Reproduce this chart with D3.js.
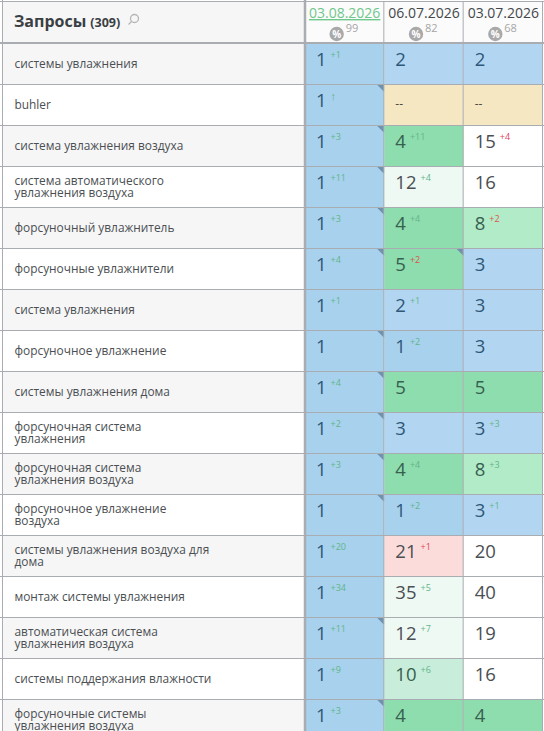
<!DOCTYPE html>
<html>
<head>
<meta charset="utf-8">
<script src="https://cdn.jsdelivr.net/npm/d3@7"></script>
<style>
  html, body { margin: 0; padding: 0; background: #fff; }
  svg { display: block; font-family: "Open Sans", sans-serif; }
</style>
</head>
<body>
<svg id="table" width="544" height="731"></svg>
<script>
const dates = ["03.08.2026", "06.07.2026", "03.07.2026"];
const percents = [99, 82, 68];

const queries = [
  ["системы увлажнения"],
  ["buhler"],
  ["система увлажнения воздуха"],
  ["система автоматического", "увлажнения воздуха"],
  ["форсуночный увлажнитель"],
  ["форсуночные увлажнители"],
  ["система увлажнения"],
  ["форсуночное увлажнение"],
  ["системы увлажнения дома"],
  ["форсуночная система", "увлажнения"],
  ["форсуночная система", "увлажнения воздуха"],
  ["форсуночное увлажнение", "воздуха"],
  ["системы увлажнения воздуха для", "дома"],
  ["монтаж системы увлажнения"],
  ["автоматическая система", "увлажнения воздуха"],
  ["системы поддержания влажности"],
  ["форсуночные системы", "увлажнения воздуха"]
];

// positions per date column, null = not in the results
const positions = [
  [1, 1, 1, 1, 1, 1, 1, 1, 1, 1, 1, 1, 1, 1, 1, 1, 1],
  [2, null, 4, 12, 4, 5, 2, 1, 5, 3, 4, 1, 21, 35, 12, 10, 4],
  [2, null, 15, 16, 8, 3, 3, 3, 5, 3, 8, 3, 20, 40, 19, 16, 4]
];

// change against the next date, positive = went up; "up" = newly appeared
const changes = [
  [1, "up", 3, 11, 3, 4, 1, 0, 4, 2, 3, 0, 20, 34, 11, 9, 3],
  [0, 0, 11, 4, 4, -2, 1, 2, 0, 0, 4, 2, -1, 5, 7, 6, 0],
  [0, 0, -4, 0, -2, 0, 0, 0, 0, 3, 3, 1, 0, 0, 0, 0, 0]
];

// rows with the corner mark, per date column
const marked = [
  [1, 2, 3, 4, 5, 7, 8, 9, 10, 11, 14, 16],
  [5],
  []
];

const width = 544, height = 731;
const headerBottom = 43, rowHeight = 41;
const tableLeft = 2, queryRight = 305, tableRight = 543;

const svg = d3.select("#table");

const x = d3.scaleBand().domain(d3.range(dates.length)).range([queryRight, tableRight]);
const y = d3.scaleLinear().domain([0, 1]).range([headerBottom, headerBottom + rowHeight]);

function cellFill(pos, change) {
  if (pos === null) return "#f5e7c2";
  if (pos === 1) return "#a7d1ed";
  if (pos <= 3) return "#b2d6f1";
  if (pos <= 5) return "#8eddae";
  if (pos <= 8) return "#b2ebc7";
  if (pos <= 10) return "#c8eedb";
  if (pos > 20 && change < 0) return "#fbdcdb";
  if (change > 0) return "#eff9f4";
  return "#ffffff";
}

function numberFill(pos) {
  if (pos <= 3) return "#2f5878";
  if (pos <= 10) return "#37604f";
  return "#4a4f53";
}

// backgrounds
svg.append("rect").attr("width", width).attr("height", height).attr("fill", "#fff");
svg.append("rect").attr("x", tableLeft).attr("y", 2)
  .attr("width", queryRight - tableLeft).attr("height", headerBottom - 2).attr("fill", "#f6f6f6");
svg.append("rect").attr("x", queryRight).attr("y", 2)
  .attr("width", tableRight - queryRight).attr("height", headerBottom - 2).attr("fill", "#fbfbfb");

const rows = svg.selectAll(".row").data(queries).join("g").attr("class", "row");

rows.append("rect")
  .attr("x", tableLeft)
  .attr("y", (d, i) => y(i))
  .attr("width", queryRight - tableLeft)
  .attr("height", rowHeight)
  .attr("fill", (d, i) => i % 2 ? "#ffffff" : "#f6f6f7");

rows.append("text")
  .attr("font-size", 11.9)
  .attr("fill", "#4b4f52")
  .each(function(lines, i) {
    const top = y(i) + rowHeight / 2 + 4 - (lines.length - 1) * 6;
    d3.select(this).selectAll("tspan").data(lines).join("tspan")
      .attr("x", 14.5)
      .attr("y", (d, k) => top + k * 12)
      .text(d => d);
  });

// date columns
dates.forEach((date, c) => {
  const col = svg.append("g").attr("class", "col");
  const left = x(c), cx = left + x.bandwidth() / 2;

  const cells = col.selectAll(".cell").data(positions[c]).join("g").attr("class", "cell");

  cells.append("rect")
    .attr("x", left)
    .attr("y", (d, i) => y(i))
    .attr("width", x.bandwidth())
    .attr("height", rowHeight)
    .attr("fill", (d, i) => cellFill(d, changes[c][i]));

  marked[c].forEach(i => {
    const tx = left + x.bandwidth(), ty = y(i);
    col.append("path").attr("fill", "#6f92ad")
      .attr("d", d3.line()([[tx - 8, ty], [tx, ty], [tx, ty + 8]]) + "Z");
  });

  cells.each(function(pos, i) {
    const cell = d3.select(this);
    const change = changes[c][i];
    if (pos === null) {
      cell.append("text").attr("x", left + 11).attr("y", y(i) + 24)
        .attr("font-size", 12).attr("fill", "#4a4a40").text("--");
      return;
    }
    const num = cell.append("text").attr("x", left + 11).attr("y", y(i) + 23)
      .attr("font-size", 18.5).attr("fill", numberFill(pos)).text(pos);
    if (!change) return;
    const numWidth = num.node().getComputedTextLength();
    const isUp = change === "up";
    cell.append("text")
      .attr("x", left + 11 + numWidth + 4)
      .attr("y", y(i) + (isUp ? 16 : 15))
      .attr("font-size", isUp ? 11 : 9)
      .attr("fill", isUp || change > 0 ? "#62b58a" : (pos > 10 ? "#e0455a" : "#d9574f"))
      .text(isUp ? "↑" : "+" + Math.abs(change));
  });

  // header
  const head = col.append("text")
    .attr("x", cx).attr("y", 18)
    .attr("text-anchor", "middle")
    .attr("font-size", 14)
    .attr("fill", c === 0 ? "#6fc78c" : "#44484c")
    .text(date);
  if (c === 0) head.attr("text-decoration", "underline");

  col.append("circle").attr("cx", cx - 8).attr("cy", 34).attr("r", 7.2).attr("fill", "#a9a9a9");
  col.append("text").attr("x", cx - 8).attr("y", 37.5)
    .attr("text-anchor", "middle").attr("font-size", 10).attr("font-weight", 700)
    .attr("fill", "#fff").text("%");
  col.append("text").attr("x", cx + 1).attr("y", 32)
    .attr("font-size", 11).attr("fill", "#a6a6a6").text(percents[c]);
});

// grid lines
const grid = svg.append("g").attr("stroke", "#a9acb0").attr("stroke-width", 1);
d3.range(1, queries.length + 1).forEach(i => {
  grid.append("line").attr("x1", 0).attr("x2", width).attr("y1", y(i) + 0.5).attr("y2", y(i) + 0.5);
});
x.domain().slice(1).concat([dates.length]).forEach(c => {
  const px = (c === dates.length ? tableRight : x(c)) - 0.5;
  grid.append("line").attr("x1", px).attr("x2", px).attr("y1", 2).attr("y2", height);
});
grid.append("line").attr("x1", 0).attr("x2", width).attr("y1", 1.5).attr("y2", 1.5);
grid.append("line").attr("x1", tableLeft + 0.5).attr("x2", tableLeft + 0.5).attr("y1", 0).attr("y2", height);
grid.append("line").attr("x1", 0).attr("x2", width).attr("y1", headerBottom).attr("y2", headerBottom)
  .attr("stroke-width", 2);
grid.append("line").attr("x1", queryRight).attr("x2", queryRight).attr("y1", 0).attr("y2", height)
  .attr("stroke-width", 2.5);

// title
const title = svg.append("text").attr("x", 14).attr("y", 26.5).attr("fill", "#3a3f44").attr("font-weight", 700);
title.append("tspan").attr("font-size", 16).text("Запросы");
title.append("tspan").attr("font-size", 12.5).attr("dx", 4).text("(309)");

// magnifier
const icon = svg.append("g").attr("fill", "none").attr("stroke", "#b5b5b5").attr("stroke-width", 1.3);
icon.append("circle").attr("cx", 134.5).attr("cy", 18.5).attr("r", 4);
icon.append("line").attr("x1", 131.5).attr("y1", 21.5).attr("x2", 128.5).attr("y2", 24.5);
</script>
</body>
</html>
